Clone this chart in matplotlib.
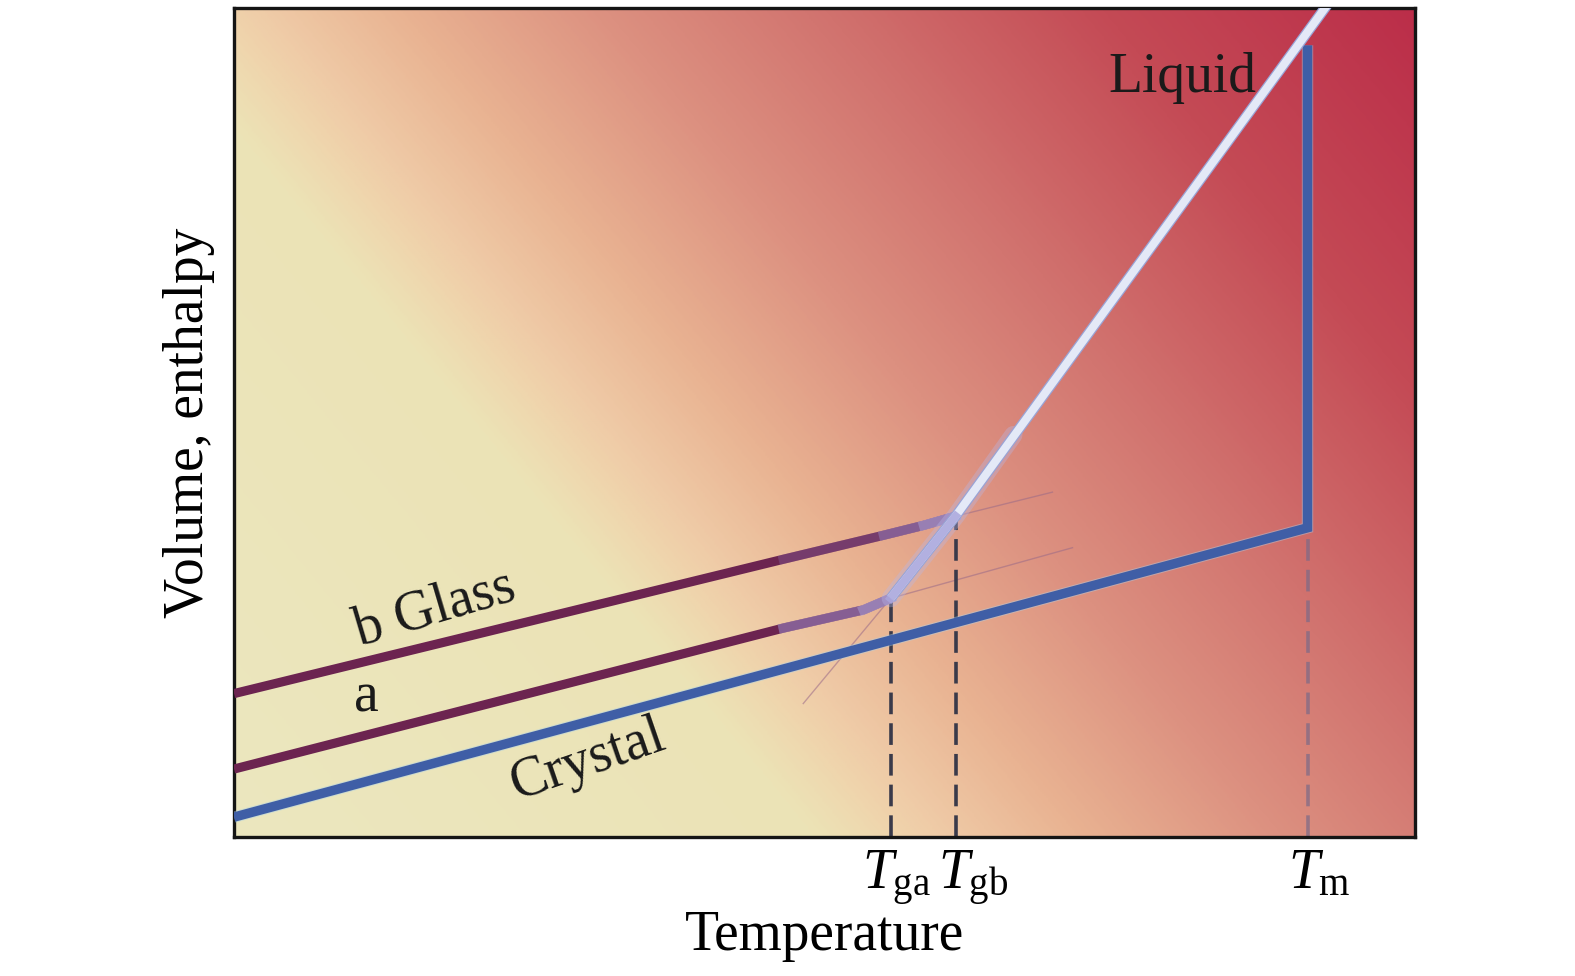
import numpy as np
import matplotlib
matplotlib.use('Agg')
import matplotlib.pyplot as plt
from matplotlib.colors import LinearSegmentedColormap
from matplotlib.transforms import ScaledTranslation
import matplotlib.patheffects as pe

plt.rcParams['font.family'] = ['Liberation Serif', 'DejaVu Serif']
plt.rcParams['mathtext.fontset'] = 'custom'
plt.rcParams['mathtext.rm'] = 'Liberation Serif'
plt.rcParams['mathtext.it'] = 'Liberation Serif:italic'

# ---------------- data ----------------
T_ga, T_gb, T_m = 55.6, 61.1, 90.9
tick_positions = [T_ga, T_gb, T_m]
tick_labels = [r'$T_{\mathrm{ga}}$', r'$T_{\mathrm{gb}}$', r'$T_{\mathrm{m}}$']

crystal_T = [0.0, 90.9, 90.9]
crystal_V = [2.4, 37.3, 95.5]

liquid_T = [55.6, 61.1, 93.5]
liquid_V = [28.8, 38.7, 102.2]

glass_b_T = [0.0, 46.5, 55.0, 58.4, 61.1]
glass_b_V = [17.3, 33.5, 36.4, 37.6, 38.7]

glass_a_T = [0.0, 46.5, 53.3, 55.6]
glass_a_V = [8.2, 25.2, 27.4, 28.8]

ext_b_T = [61.1, 69.3]
ext_b_V = [38.7, 41.6]
ext_a_T = [55.6, 71.0]
ext_a_V = [28.8, 34.9]
ext_liq_T = [48.2, 55.6]
ext_liq_V = [16.1, 28.8]

# ---------------- figure ----------------
fig = plt.figure(figsize=(15.75, 9.76), dpi=100)
ax = fig.add_axes([0.1486, 0.1424, 0.7498, 0.8494])
ax.set_xlim(0, 100)
ax.set_ylim(0, 100)

# background gradient (diagonal: pale yellow lower-left -> crimson upper-right)
W, H = 1176, 825
nx, ny = 600, 420
X = np.linspace(0, W, nx)[None, :]
Y = np.linspace(0, H, ny)[:, None]  # from top
t = 0.773 * (X + 233) - 0.634 * (Y + 8)
stops = [(-350, '#ebe7bf'), (100, '#ece3b6'), (150, '#efd7ae'), (200, '#efcaa6'),
         (300, '#e9b392'), (459, '#dc9080'), (613, '#d27570'), (845, '#c44a55'),
         (1090, '#bb2d49')]
tmin, tmax = stops[0][0], stops[-1][0]
cmap = LinearSegmentedColormap.from_list(
    'bg', [((s - tmin) / (tmax - tmin), c) for s, c in stops])
ax.imshow((t - tmin) / (tmax - tmin), cmap=cmap, vmin=0, vmax=1,
          extent=[0, 100, 0, 100], origin='upper', aspect='auto',
          interpolation='bilinear', zorder=0)

# faint extrapolation lines
for xs, ys in [(ext_b_T, ext_b_V), (ext_a_T, ext_a_V), (ext_liq_T, ext_liq_V)]:
    ax.plot(xs, ys, color='#9a6a88', lw=1.0, alpha=0.55, zorder=2)

# dashed drop lines
ax.plot([T_m, T_m], [0, crystal_V[1]], color='#7a6a88', lw=2.6, alpha=0.7,
        dashes=(6, 2.5), zorder=2)
ax.plot([T_ga, T_ga], [0, glass_a_V[-1]], color='#3a3a4a', lw=2.6,
        dashes=(6, 2.5), zorder=2)
ax.plot([T_gb, T_gb], [0, glass_b_V[-1]], color='#3a3a4a', lw=2.6,
        dashes=(6, 2.5), zorder=2)

# crystal
ax.plot(crystal_T, crystal_V, color='#3f5ea6', lw=6.8, solid_joinstyle='miter',
        solid_capstyle='butt', zorder=3,
        path_effects=[pe.Stroke(linewidth=8.2, foreground='#a8d0e8', alpha=0.45), pe.Normal()])

# glass lines (dark, fading to lavender toward the transition)
glass_col = '#6c2450'
for gx, gy in [(glass_b_T, glass_b_V), (glass_a_T, glass_a_V)]:
    ax.plot(gx, gy, color=glass_col, lw=6.6, solid_capstyle='butt', zorder=4)
    ax.plot(gx[1:], gy[1:], color='#9074ae', lw=6.6, alpha=0.3, zorder=4)
    ax.plot(gx[-3:], gy[-3:], color='#9a88c4', lw=6.8, alpha=0.45, zorder=4)
    ax.plot(gx[-2:], gy[-2:], color='#b0a8dc', lw=7.0, alpha=0.45, zorder=4)

# glow around the glass transition region
ax.plot([T_ga, T_gb, 66.0], [28.8, 38.7, 48.5], color='#b8b8ea', lw=13, alpha=0.35,
        solid_capstyle='round', zorder=4)

# liquid
ax.plot(liquid_T, liquid_V, color='#e4e9f7', lw=5.8, solid_capstyle='butt', zorder=5,
        path_effects=[pe.Stroke(linewidth=7.6, foreground='#9aa4d6'), pe.Normal()])
ax.plot(liquid_T[:2], liquid_V[:2], color='#aaa6dc', lw=5.8, alpha=0.85, zorder=5)

# labels inside
ax.text(80.3, 91.6, 'Liquid', fontsize=40, color='#1a1a1a', ha='center', va='center', zorder=6)
ax.text(17.0, 27.5, 'b Glass', fontsize=40, color='#1a1a1a', ha='center', va='center',
        rotation=16.5, rotation_mode='anchor', zorder=6)
ax.text(11.2, 16.8, 'a', fontsize=40, color='#1a1a1a', ha='center', va='center', zorder=6)
ax.text(30.0, 9.2, 'Crystal', fontsize=40, color='#1a1a1a', ha='center', va='center',
        rotation=19, rotation_mode='anchor', zorder=6)

# ticks
ax.set_xticks(tick_positions, labels=tick_labels, fontsize=40)
ax.set_yticks([])
ax.tick_params(axis='x', length=0, pad=8)
for lab, dx in zip(ax.get_xticklabels(), [6, 18, 12]):
    lab.set_transform(lab.get_transform() + ScaledTranslation(dx / 100, 0, fig.dpi_scale_trans))

ax.set_xlabel('Temperature', fontsize=40, labelpad=2)
ax.set_ylabel('Volume, enthalpy', fontsize=40, labelpad=14)

for s in ax.spines.values():
    s.set_linewidth(2.4)
    s.set_color('#151515')

fig.savefig('out.png', dpi=100)
